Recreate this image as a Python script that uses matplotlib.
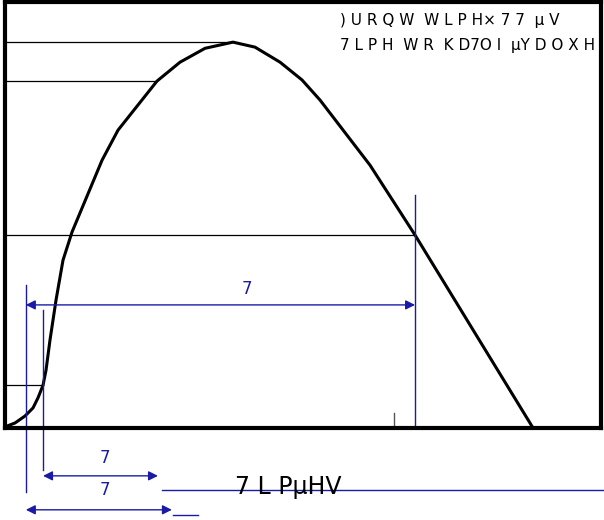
import numpy as np
import matplotlib.pyplot as plt

# impulse wave shape, time in us, voltage in % of peak
t_us = [0, 1.01, 2.01, 2.82, 3.32, 3.83, 4.13, 4.53, 5.14, 5.84, 6.75,
        9.77, 11.38, 15.30, 17.62, 20.14, 22.95, 25.17, 27.69, 29.90, 31.71,
        36.75, 41.28, 53.16]
v_pct = [0.3, 1.3, 3.1, 5.2, 7.8, 11.1, 15.0, 22.8, 33.2, 43.5, 50.8,
         69.4, 77.2, 89.9, 94.8, 98.4, 100, 98.7, 94.8, 90.2, 85.0,
         68.1, 50.0, 0]

# reference levels (%) and the time where each meets the curve
levels = [11.1, 50.0, 89.9, 100]
level_t = [3.83, 41.28, 15.3, 22.95]

# dimension points
t_origin = 2.1      # virtual origin
t_10 = 3.83
t_half = 41.28
t_front_end = 15.4
t_total_end = 16.8
tick_t = 39.2

blue = '#1a1aa6'

fig = plt.figure(figsize=(6.04, 5.2), dpi=100)
ax = fig.add_axes([5 / 604, 92 / 520, 596 / 604, 426 / 520])
ax.set_xlim(0, 60)
ax.set_ylim(0, 110.4)
ax.set_xticks([])
ax.set_yticks([])
for s in ax.spines.values():
    s.set_linewidth(3)
    s.set_color('black')

# level lines
for lv, lt in zip(levels, level_t):
    ax.plot([0, lt], [lv, lv], color='black', lw=0.9)

ax.plot(t_us, v_pct, color='black', lw=2.2, solid_capstyle='round', solid_joinstyle='round')
ax.plot([tick_t, tick_t], [0, 4], color='#555555', lw=1)

# blue dimension lines
ax.plot([t_origin, t_origin], [37.0, -16.5], color=blue, lw=1, clip_on=False)
ax.plot([t_10, t_10], [30.6, -10.9], color=blue, lw=1, clip_on=False)
ax.plot([t_half, t_half], [60.4, 0], color=blue, lw=1, clip_on=False)

arr = dict(arrowstyle='<|-|>', color=blue, lw=1, mutation_scale=14, shrinkA=0, shrinkB=0)
ax.annotate('', xy=(t_origin, 31.9), xytext=(t_half, 31.9), arrowprops=arr, annotation_clip=False)
ax.annotate('', xy=(t_10, -12.4), xytext=(t_front_end, -12.4), arrowprops=arr, annotation_clip=False)
ax.annotate('', xy=(t_origin, -21.2), xytext=(t_total_end, -21.2), arrowprops=arr, annotation_clip=False)
ax.plot([t_front_end + 0.4, 60.2], [-16.1, -16.1], color=blue, lw=1, clip_on=False)
ax.plot([t_total_end + 0.1, 19.4], [-22.5, -22.5], color=blue, lw=1, clip_on=False)

ax.text(24.3, 36.0, '7', color=blue, fontsize=12, ha='center', va='center')
ax.text(10.1, -7.8, '7', color=blue, fontsize=12, ha='center', va='center')
ax.text(10.1, -16.0, '7', color=blue, fontsize=12, ha='center', va='center')

# garbled labels as they appear
ax.text(33.7, 105.6, ') U R Q W  W L P H\u00d7 7 7  \u00b5 V', fontsize=11, ha='left', va='center')
ax.text(33.7, 99.2, '7 L P H  W R  K D7O I  \u00b5Y D O X H', fontsize=11,
        ha='left', va='center')
ax.text(23.2, -15.3, '7 L P\u00b5HV', fontsize=17, ha='left', va='center')

fig.savefig('out.png', dpi=100)
